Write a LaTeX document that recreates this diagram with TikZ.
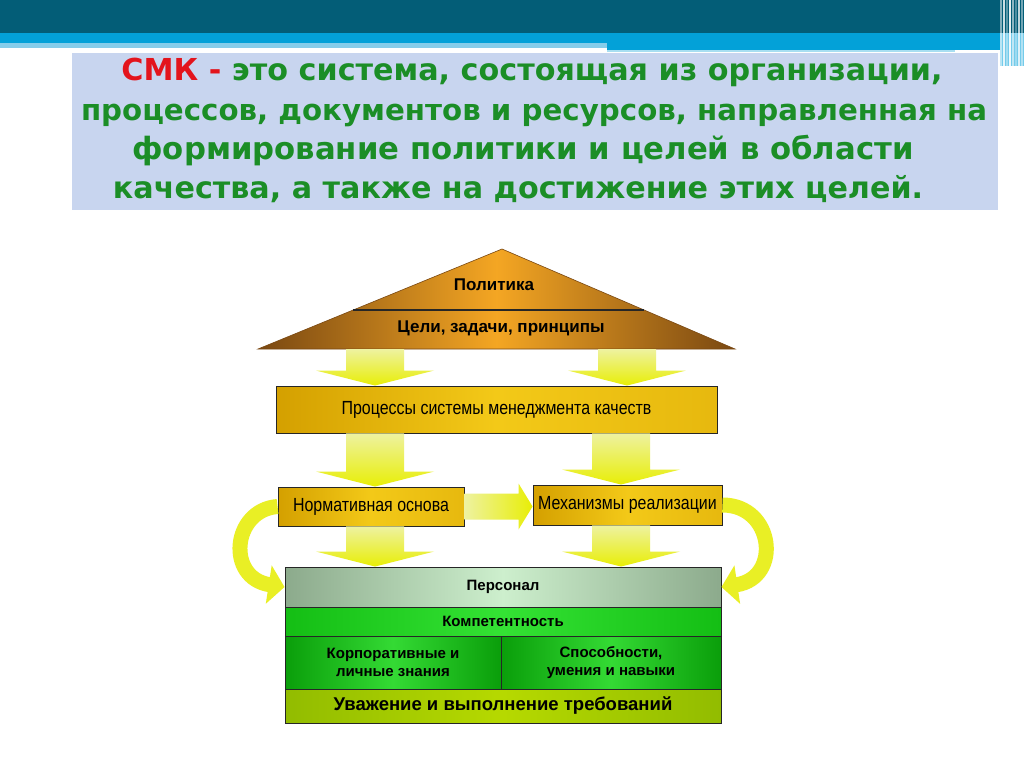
\documentclass[tikz,border=0pt]{standalone}
\usepackage{fontspec}
\usepackage{graphicx}
\setmainfont{Liberation Sans}
\newfontfamily\titlefont{DejaVu Sans}
\usetikzlibrary{arrows.meta,calc}

\definecolor{bardark}{HTML}{035D77}
\definecolor{barblue}{HTML}{03A1D8}
\definecolor{barpale}{HTML}{86CDEA}
\definecolor{titlebg}{HTML}{C8D5EF}
\definecolor{titlegreen}{HTML}{1B8E26}
\definecolor{smkred}{HTML}{E3141C}
\definecolor{roofdark}{HTML}{7A4812}
\definecolor{rooflight}{HTML}{F4A623}
\definecolor{golddark}{HTML}{D4A000}
\definecolor{goldlight}{HTML}{F3C918}
\definecolor{arrowpale}{HTML}{EEF2A0}
\definecolor{arrowyel}{HTML}{E8EE06}
\definecolor{persdark}{HTML}{8CAA8C}
\definecolor{perslight}{HTML}{CDEFCD}
\definecolor{kompdark}{HTML}{14BE14}
\definecolor{komplight}{HTML}{34E234}
\definecolor{celldark}{HTML}{0A9E0A}
\definecolor{celllight}{HTML}{34DA34}
\definecolor{baseldark}{HTML}{92BC00}
\definecolor{basellight}{HTML}{B6D900}

\newcommand\narrowlbl[1]{\scalebox{0.84}[1]{#1}}
\newcommand\ydown[2]{%
  \path[yarrowv] let \p1=(#1), \p2=(#2) in
    (\x1-29pt,\y1) -- (\x1+29pt,\y1) -- (\x1+29pt,\y2+15pt) -- (\x1+59pt,\y2+15pt)
    -- (\x1,\y2) -- (\x1-59pt,\y2+15pt) -- (\x1-29pt,\y2+15pt) -- cycle;}
\newcommand\yright[2]{%
  \path[yarrowh] let \p1=(#1), \p2=(#2) in
    (\x1,\y1+13pt) -- (\x2-14pt,\y1+13pt) -- (\x2-14pt,\y1+23pt) -- (\x2,\y1)
    -- (\x2-14pt,\y1-23pt) -- (\x2-14pt,\y1-13pt) -- (\x1,\y1-13pt) -- cycle;}

\begin{document}
\begin{tikzpicture}[x=1pt,y=-1pt,
  tline/.style={text=titlegreen, font=\titlefont\bfseries\fontsize{28}{32}\selectfont, inner sep=0pt, anchor=base},
  rooftext/.style={font=\bfseries\fontsize{17}{20}\selectfont, inner sep=0pt},
  goldbox/.style={draw=black!85, line width=0.9pt, inner sep=0pt,
    left color=golddark, right color=golddark!40!goldlight, middle color=goldlight,
    font=\fontsize{19}{22}\selectfont},
  greenbox/.style={draw=black!85, line width=0.9pt, inner sep=0pt, align=center,
    font=\bfseries\fontsize{15}{18}\selectfont},
  yarrowv/.style={top color=arrowpale, bottom color=arrowyel},
  yarrowh/.style={left color=arrowpale, right color=arrowyel},
  ycurve/.style={draw=arrowyel!80!arrowpale, line width=15pt, -{Triangle[length=16pt,width=38pt]}}
]
\useasboundingbox (0,0) rectangle (1024,767);
\fill[white] (0,0) rectangle (1024,767);

% top bar
\fill[bardark] (0,0) rectangle (1024,33);
\fill[barblue] (0,33) rectangle (1000,50);
\fill[barpale] (0,43) rectangle (607,48);
\fill[white] (0,48) rectangle (607,51);
\fill[barblue!35] (607,50.5) rectangle (955,52.5);
\fill[barblue!55!white] (1000,33) rectangle (1024,66);
\foreach \xx/\op in {1000/0.5,1003/0.8,1006/0.35,1009/0.9,1012/0.55,1015/0.3,1018/0.75,1021/0.45}
  {\fill[white, opacity=\op] (\xx,0) rectangle (\xx+1.5,66);}

% title
\fill[titlebg] (72,53) rectangle (998,210);
\node[tline] (t1) at (532,81) {\resizebox{821pt}{!}{\textcolor{smkred}{СМК -} это система, состоящая из организации,}};
\node[tline] (t2) at (534,121) {\resizebox{906pt}{!}{процессов, документов и ресурсов, направленная на}};
\node[tline] (t3) at (523,160) {\resizebox{781pt}{!}{формирование политики и целей в области}};
\node[tline] (t4) at (518,199) {\resizebox{810pt}{!}{качества, а также на достижение этих целей.}};

% roof
\coordinate (apex) at (502,249);
\coordinate (roofbl) at (258,349);
\coordinate (roofbr) at (735,349);
\coordinate (roofbase) at (496,349);
\shadedraw[draw=roofdark, line width=0.6pt, left color=roofdark, right color=roofdark, middle color=rooflight]
  (roofbl) -- (apex) -- (roofbr) -- cycle;
\draw[black!85, line width=1.2pt] ($(apex)!0.61!(roofbl)$) -- ($(apex)!0.61!(roofbr)$);
\node[rooftext] (pol) at (494,285) {Политика};
\node[rooftext] (goals) at (501,328) {Цели, задачи, принципы};

% boxes
\node[goldbox, minimum width=441pt, minimum height=47pt] (proc) at (496.5,409.5)
  {\narrowlbl{Процессы системы менеджмента качеств}};
\node[goldbox, minimum width=186pt, minimum height=39pt] (norm) at (371,506.5)
  {\narrowlbl{Нормативная основа}};
\node[goldbox, minimum width=189pt, minimum height=40pt] (mech) at (627.5,505)
  {\narrowlbl{Механизмы реализации}};

\node[greenbox, minimum width=436pt, minimum height=40pt,
  left color=persdark, right color=persdark, middle color=perslight] (pers) at (503,587) {Персонал};
\node[greenbox, minimum width=436pt, minimum height=29pt,
  left color=kompdark, right color=kompdark, middle color=komplight] (komp) at (503,621.5) {Компетентность};
\node[greenbox, minimum width=216pt, minimum height=53pt,
  left color=celldark, right color=celldark, middle color=celllight] (know) at (393,662.5)
  {Корпоративные и\\личные знания};
\node[greenbox, minimum width=220pt, minimum height=53pt,
  left color=celldark, right color=celldark, middle color=celllight] (skill) at (611,662.5)
  {Способности,\\умения и навыки};
\node[greenbox, minimum width=436pt, minimum height=34pt, font=\bfseries\fontsize{18.5}{22}\selectfont,
  left color=baseldark, right color=baseldark, middle color=basellight] (resp) at (503,706)
  {Уважение и выполнение требований};

% arrow columns
\coordinate (colL) at (375,0);
\coordinate (colRt) at (627,0);
\coordinate (colR) at (621,0);

\ydown{roofbase -| colL}{proc.north -| colL}
\ydown{roofbase -| colRt}{proc.north -| colRt}
\ydown{proc.south -| colL}{norm.north -| colL}
\ydown{proc.south -| colR}{mech.north -| colR}
\ydown{norm.south -| colL}{pers.north -| colL}
\ydown{mech.south -| colR}{pers.north -| colR}
\yright{norm.east}{mech.west}

% curved arrows
\draw[ycurve] (norm.west) .. controls (232,510) and (226,578) .. (pers.west);
\draw[ycurve] (mech.east) .. controls (774,505) and (782,578) .. (pers.east);
\end{tikzpicture}
\end{document}
